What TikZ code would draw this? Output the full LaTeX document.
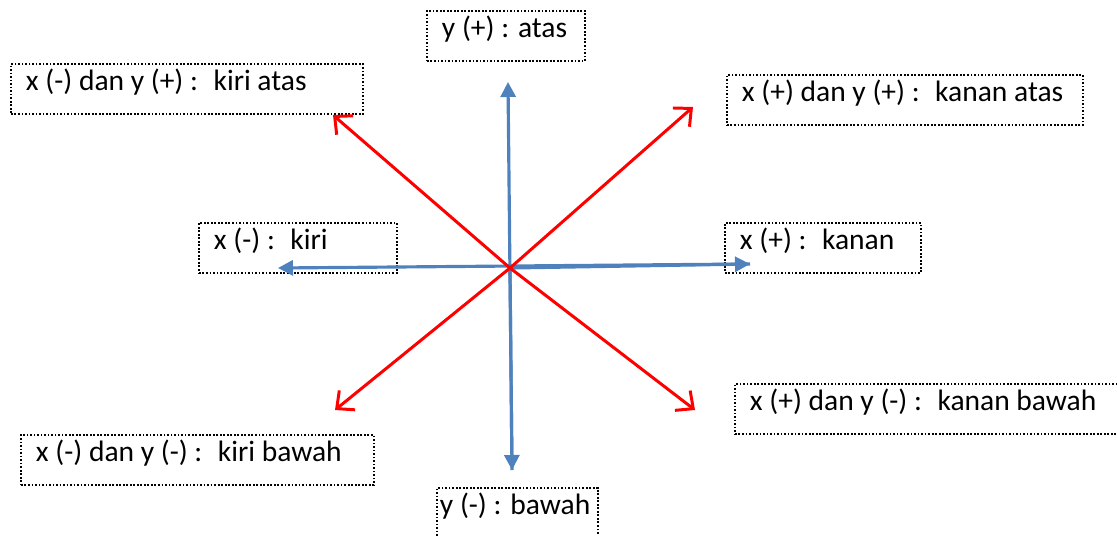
\documentclass[tikz,border=0pt]{standalone}
\usepackage{fontspec}
\setmainfont{Carlito}
\usetikzlibrary{arrows.meta}
\definecolor{axisblue}{RGB}{79,129,189}

\begin{document}
\begin{tikzpicture}[x=0.02cm,y=-0.02cm,
  lbl/.style={draw, line width=1.1pt, dash pattern=on 1pt off 1pt, anchor=north west,
    inner xsep=0.3cm, inner ysep=0pt, text height=0.53cm, text depth=0.47cm,
    font=\fontsize{16.8}{19}\selectfont},
  sumbu/.style={axisblue, line width=1.8pt, -{Triangle[length=0.3cm,width=0.3cm]}},
  diag/.style={red, line width=1.7pt, -{Straight Barb[length=0.27cm,width=0.5cm]}}]
\useasboundingbox (0,0) rectangle (1117,535);
\clip (0,0) rectangle (1117,535);

\node[lbl] (atas) at (426,10) {\makebox[2.56cm][l]{y (+) : atas}};
\node[lbl] (kiriatas) at (10,63) {\makebox[6.44cm][l]{x (-) dan y (+) : \ kiri atas}};
\node[lbl] (kananatas) at (726,74) {\makebox[6.52cm][l]{x (+) dan y (+) : \ kanan atas}};
\node[lbl] (kiri) at (198,222) {\makebox[3.36cm][l]{x (-) : \ kiri}};
\node[lbl] (kanan) at (724,222) {\makebox[3.32cm][l]{x (+) : \ kanan}};
\node[lbl] (kananbawah) at (734,383) {\makebox[7.4cm][l]{x (+) dan y (-) : \ kanan bawah}};
\node[lbl] (kiribawah) at (20,434) {\makebox[6.46cm][l]{x (-) dan y (-) : \ kiri bawah}};
\node[lbl, inner xsep=0.06cm] (bawah) at (436,487) {\makebox[3.1cm][l]{y (-) : bawah}};

\coordinate (o) at (510,268);
\coordinate (up) at (508,82);
\coordinate (down) at (512,470);
\coordinate (left) at (278,268);
\coordinate (right) at (750,264);
\coordinate (ul) at (333,115);
\coordinate (ur) at (693,107);
\coordinate (dl) at (335,410);
\coordinate (dr) at (695,410);

\draw[sumbu] (down) -- (up);
\draw[sumbu] (o) -- (down);
\draw[sumbu] (right) -- (left);
\draw[sumbu] (o) -- (right);

\draw[diag] (o) -- (ul);
\draw[diag] (o) -- (ur);
\draw[diag] (o) -- (dl);
\draw[diag] (o) -- (dr);
\end{tikzpicture}
\end{document}
